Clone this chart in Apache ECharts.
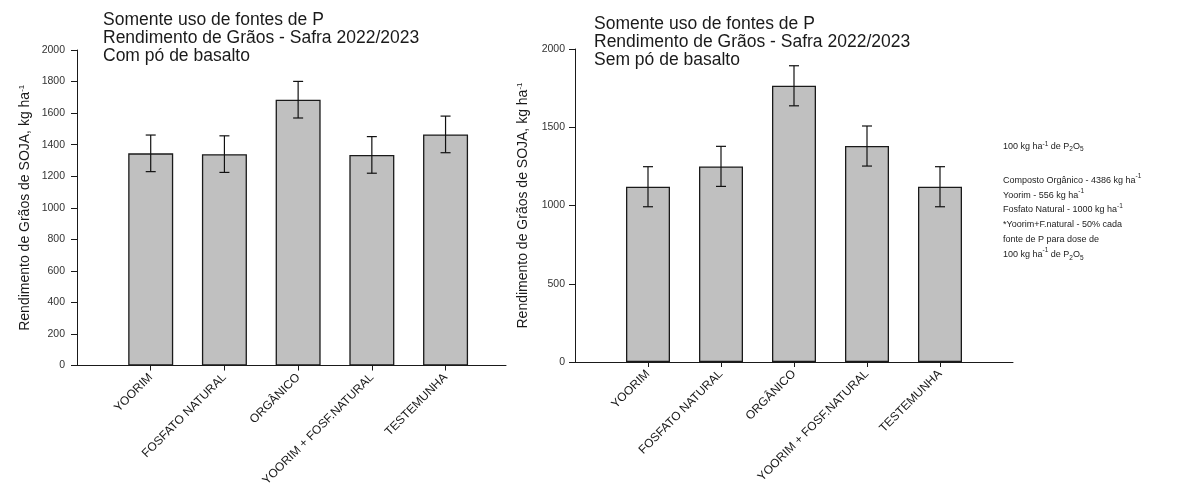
<!DOCTYPE html>
<html>
<head>
<meta charset="utf-8">
<script src="https://cdn.jsdelivr.net/npm/echarts@6/dist/echarts.min.js"></script>
<style>
  html, body { margin: 0; padding: 0; background: #fff; }
  #chart { width: 1198px; height: 489px; }
</style>
</head>
<body>
<div id="chart"></div>
<script>
// Tratamentos (fontes de P)
const categories = ['YOORIM', 'FOSFATO NATURAL', 'ORGÂNICO', 'YOORIM + FOSF.NATURAL', 'TESTEMUNHA'];
const positions = [1, 2, 3, 4, 5];

// Rendimento de grãos de soja (kg/ha) e erro, com pó de basalto
const comBasalto = [1345, 1340, 1685, 1335, 1465];
const erroCom = [116, 116, 116, 116, 116];

// Rendimento de grãos de soja (kg/ha) e erro, sem pó de basalto
const semBasalto = [1120, 1250, 1765, 1380, 1120];
const erroSem = [128, 128, 128, 128, 128];

const ticksCom = [0, 200, 400, 600, 800, 1000, 1200, 1400, 1600, 1800, 2000];
const ticksSem = [0, 500, 1000, 1500, 2000];

const FONT = 'Liberation Sans';
const INK = '#1a1a1a';

function barData(vals) { return positions.map((p, i) => [p, vals[i]]); }
function errData(vals, errs) { return positions.map((p, i) => [p, vals[i], errs[i]]); }

function renderErr(params, api) {
  const x = api.value(0), y = api.value(1), e = api.value(2);
  const top = api.coord([x, y + e]);
  const bot = api.coord([x, y - e]);
  const cap = 5;
  const st = { stroke: '#111', lineWidth: 1.2 };
  return {
    type: 'group',
    children: [
      { type: 'line', shape: { x1: top[0], y1: top[1], x2: bot[0], y2: bot[1] }, style: st },
      { type: 'line', shape: { x1: top[0] - cap, y1: top[1], x2: top[0] + cap, y2: top[1] }, style: st },
      { type: 'line', shape: { x1: bot[0] - cap, y1: bot[1], x2: bot[0] + cap, y2: bot[1] }, style: st }
    ]
  };
}

function xAxisFor(idx, max) {
  return {
    gridIndex: idx, type: 'value', min: 0, max: max, interval: 1,
    splitLine: { show: false },
    axisLine: { lineStyle: { color: INK, width: 1 } },
    axisTick: { show: true, customValues: positions, length: 5, lineStyle: { color: INK } },
    axisLabel: {
      customValues: positions, rotate: 45, margin: 10,
      fontFamily: FONT, fontSize: 12, color: '#1a1a1a',
      formatter: v => categories[Math.round(v) - 1] || ''
    }
  };
}

function yAxisFor(idx, ticks, labelMargin) {
  const step = ticks[1] - ticks[0];
  return {
    gridIndex: idx, type: 'value', min: ticks[0], max: ticks[ticks.length - 1], interval: step,
    splitLine: { show: false },
    axisLine: { show: true, lineStyle: { color: INK, width: 1 } },
    axisTick: { show: true, length: 6, lineStyle: { color: INK } },
    axisLabel: { fontFamily: FONT, fontSize: 10.5, color: '#333', margin: labelMargin, formatter: v => String(v) },
    name: 'Rendimento de Grãos de SOJA, kg ha{sup|-1}',
    nameLocation: 'middle', nameGap: 45,
    nameTextStyle: {
      fontFamily: FONT, fontSize: 14, color: INK,
      rich: { sup: { fontFamily: FONT, fontSize: 8, color: INK, verticalAlign: 'top' } }
    }
  };
}

const titleStyle = { fontFamily: FONT, fontSize: 17.5, lineHeight: 18, fontWeight: 'normal', color: INK };
const noteRich = {
  sup: { fontFamily: FONT, fontSize: 6.5, color: '#222', verticalAlign: 'top', lineHeight: 11 },
  sub: { fontFamily: FONT, fontSize: 6.5, color: '#222', verticalAlign: 'bottom', lineHeight: 11 }
};
const noteStyle = { fontFamily: FONT, fontSize: 9, fontWeight: 'normal', color: '#222', rich: noteRich };

const chart = echarts.init(document.getElementById('chart'), null, { renderer: 'canvas' });
chart.setOption({
  backgroundColor: '#fff',
  animation: false,
  title: [
    { text: 'Somente uso de fontes de P\nRendimento de Grãos - Safra 2022/2023\nCom pó de basalto',
      left: 103, top: 11, padding: 0, textStyle: titleStyle },
    { text: 'Somente uso de fontes de P\nRendimento de Grãos - Safra 2022/2023\nSem pó de basalto',
      left: 594, top: 15, padding: 0, textStyle: titleStyle },
    { text: '100 kg ha{sup|-1} de P{sub|2}O{sub|5}',
      left: 1003, top: 141, padding: 0,
      textStyle: Object.assign({ lineHeight: 12 }, noteStyle) },
    { text: 'Composto Orgânico - 4386 kg ha{sup|-1}\nYoorim - 556 kg ha{sup|-1}\nFosfato Natural - 1000 kg ha{sup|-1}\n*Yoorim+F.natural - 50% cada\nfonte de P para dose de\n100 kg ha{sup|-1} de P{sub|2}O{sub|5}',
      left: 1003, top: 173, padding: 0,
      textStyle: Object.assign({ lineHeight: 14.8 }, noteStyle) }
  ],
  grid: [
    { left: 77, top: 50, width: 429, height: 316 },
    { left: 575, top: 49, width: 438, height: 313 }
  ],
  xAxis: [xAxisFor(0, 5.82), xAxisFor(1, 6)],
  yAxis: [yAxisFor(0, ticksCom, 12), yAxisFor(1, ticksSem, 10)],
  series: [
    { type: 'bar', xAxisIndex: 0, yAxisIndex: 0, barWidth: 45, data: barData(comBasalto),
      itemStyle: { color: '#c0c0c0', borderColor: INK, borderWidth: 1.3 } },
    { type: 'custom', xAxisIndex: 0, yAxisIndex: 0, renderItem: renderErr, encode: { x: 0, y: 1 },
      data: errData(comBasalto, erroCom), z: 5 },
    { type: 'bar', xAxisIndex: 1, yAxisIndex: 1, barWidth: 44, data: barData(semBasalto),
      itemStyle: { color: '#c0c0c0', borderColor: INK, borderWidth: 1.3 } },
    { type: 'custom', xAxisIndex: 1, yAxisIndex: 1, renderItem: renderErr, encode: { x: 0, y: 1 },
      data: errData(semBasalto, erroSem), z: 5 }
  ]
});
</script>
</body>
</html>
